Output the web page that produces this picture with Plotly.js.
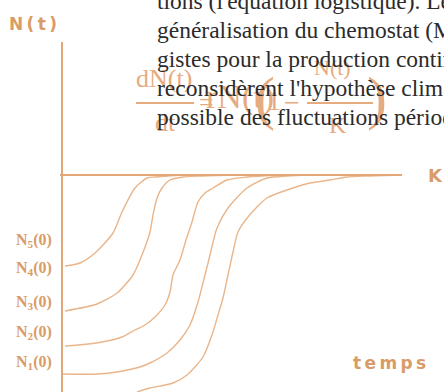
<!DOCTYPE html>
<html>
<head>
<meta charset="utf-8">
<script src="https://cdn.plot.ly/plotly-3.0.1.min.js"></script>
<style>
  html, body { margin: 0; padding: 0; background: #ffffff; }
  #chart { width: 444px; height: 392px; }
</style>
</head>
<body>
<div id="chart"></div>
<script>
// logistic curves N(t) (t and N in picture units, K = 217)
var K = 217;
var tEnd = 340;

var t1 = [3, 18, 33, 51, 60, 73, 85, 93, 106, 120];
var n1 = [126, 129, 139, 159, 180, 204, 214, 215, 216, 217];

var t2 = [3, 35, 55, 71, 80, 88, 91, 95, 100, 108, 121, 138, 171];
var n2 = [81, 88, 99, 117, 137, 160, 177, 194, 204, 212, 215, 216, 217];

var t3 = [3, 16, 40, 60, 73, 83, 93, 103, 108, 111, 118, 124, 130, 136, 143, 151, 165, 185, 221];
var n3 = [46, 47, 50, 55, 62, 67, 75, 87, 100, 117, 132, 152, 170, 190, 199, 204, 212, 215, 217];

var t4 = [1, 36, 55, 78, 88, 105, 118, 128, 136, 143, 148, 155, 166, 185, 205, 225, 250];
var n4 = [18, 18, 20, 25, 29, 39, 52, 67, 90, 117, 137, 164, 184, 204, 214, 216, 217];

var t5 = [75, 81, 88, 111, 125, 141, 150, 156, 161, 166, 171, 176, 186, 205, 228, 248, 268, 285, 305, 340];
var n5 = [0, 2, 4, 9, 17, 35, 57, 77, 94, 117, 140, 160, 175, 194, 203, 209, 212, 215, 216, 217];

var nTop = 350;

// start labels on the N axis
var startLabels = ["N<sub>5</sub>(0)", "N<sub>4</sub>(0)", "N<sub>3</sub>(0)", "N<sub>2</sub>(0)", "N<sub>1</sub>(0)"];
var startLabelN = [152, 124, 90, 60, 30];

// text of the page behind the figure
var pageLines = [
	"tions (l'équation logistique). Le",
	"généralisation du chemostat (Monod",
	"gistes pour la production continue",
	"reconsidèrent l'hypothèse climatique",
	"possible des fluctuations périodiques"
];
var pageLineN = [391, 362, 333, 304, 275];

var curveColor = "#eab58a";
var axisColor = "#e3a677";
var labelColor = "#d99b68";
var eqColor = "#e6ab7f";

function curve(t, n) {
	return {
		mode: "lines",
		x: t,
		y: n,
		hoverinfo: "skip",
		line: {
			shape: "spline",
			smoothing: 0.7,
			color: curveColor,
			width: 1.4
		}
	};
}

var data = [
	curve(t1, n1),
	curve(t2, n2),
	curve(t3, n3),
	curve(t4, n4),
	curve(t5, n5),
	{
		mode: "lines",
		x: [-2, tEnd],
		y: [K, K],
		line: { color: axisColor, width: 2 }
	},
	{
		mode: "lines",
		x: [0, 0],
		y: [0, nTop],
		line: { color: axisColor, width: 2 }
	}
];

var annotations = [];

// orange equation, drawn first so the page text sits on top
function eq(text, x, y, size) {
	annotations.push({
		text: text, x: x, y: y, xref: "x", yref: "y",
		showarrow: false, xanchor: "center", yanchor: "middle",
		font: { family: "Liberation Serif", size: size, color: eqColor }
	});
}
eq("dN(t)", 102, 314, 26);
eq("dt", 103, 270, 26);
eq("=", 144, 290, 26);
eq("rN(t)", 178, 295, 34);
eq("(", 203, 294, 60);
eq("1", 212, 292, 28);
eq("−", 230, 290, 28);
eq("N(t)", 270, 325, 22);
eq("K", 276, 267, 24);
eq(")", 315, 294, 60);

for (var i = 0; i < pageLines.length; i++) {
	annotations.push({
		text: pageLines[i], x: 93, y: pageLineN[i], xref: "x", yref: "y",
		showarrow: false, xanchor: "left", yanchor: "middle",
		font: { family: "Liberation Serif", size: 23.5, color: "#2b2b2b" }
	});
}

for (var j = 0; j < startLabels.length; j++) {
	annotations.push({
		text: startLabels[j], x: -28, y: startLabelN[j], xref: "x", yref: "y",
		showarrow: false, xanchor: "center", yanchor: "middle",
		font: { family: "Liberation Serif", size: 16, color: labelColor, weight: "bold" }
	});
}

var bold = { family: "DejaVu Sans", size: 17, color: labelColor, weight: "bold" };
annotations.push({ text: "N\u2009(\u2009t\u2009)", x: -29, y: 368, showarrow: false, font: bold });
annotations.push({ text: "K", x: 373, y: K, showarrow: false, font: { family: "DejaVu Sans", size: 18, color: labelColor, weight: "bold" } });
annotations.push({ text: "t\u2009e\u2009m\u2009p\u2009s", x: 327, y: 29, showarrow: false, font: bold });

var layout = {
	width: 444,
	height: 392,
	margin: { l: 0, r: 0, t: 0, b: 0 },
	paper_bgcolor: "#ffffff",
	plot_bgcolor: "#ffffff",
	showlegend: false,
	xaxis: { range: [-62, 382], visible: false, fixedrange: true },
	yaxis: { range: [0, 392], visible: false, fixedrange: true },
	shapes: [
		// fraction bars of the equation
		{ type: "line", xref: "x", yref: "y", x0: 74, x1: 132, y0: 289, y1: 289, line: { color: eqColor, width: 2 } },
		{ type: "line", xref: "x", yref: "y", x0: 245, x1: 311, y0: 289, y1: 289, line: { color: eqColor, width: 2 } }
	],
	annotations: annotations
};

Plotly.newPlot("chart", data, layout, { staticPlot: true, displayModeBar: false });
</script>
</body>
</html>
